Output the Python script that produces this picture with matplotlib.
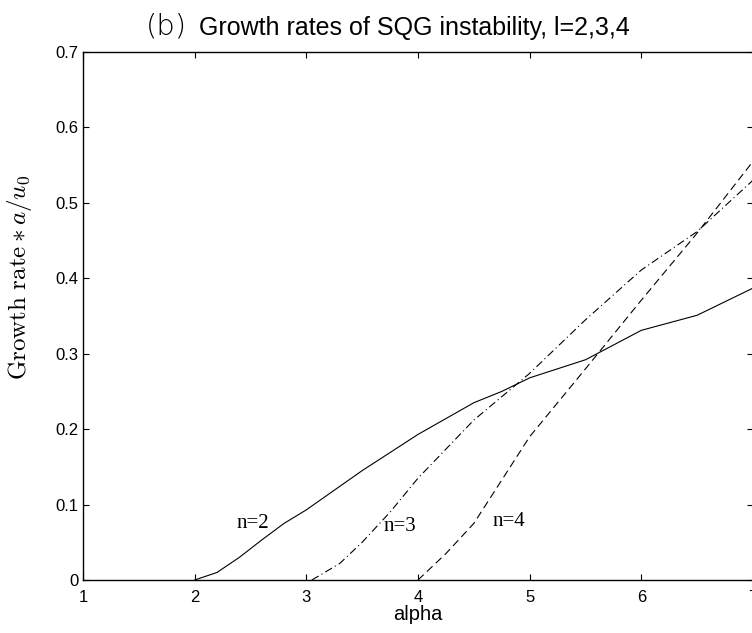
import matplotlib
matplotlib.use("Agg")
import matplotlib.pyplot as plt

# ---------------- DATA ----------------
alpha_n2 = [2.0, 2.2, 2.4, 2.6, 2.8, 3.0, 3.5, 4.0, 4.5, 4.75, 5.0, 5.5, 6.0, 6.5, 7.0]
growth_n2 = [0, 0.01, 0.03, 0.053, 0.075, 0.093, 0.145, 0.193, 0.235, 0.25, 0.268, 0.292, 0.331, 0.351, 0.387]

alpha_n3 = [3.05, 3.3, 3.5, 3.75, 4.0, 4.5, 5.0, 5.5, 6.0, 6.5, 7.0]
growth_n3 = [0, 0.022, 0.05, 0.09, 0.135, 0.212, 0.274, 0.345, 0.411, 0.462, 0.53]

alpha_n4 = [4.0, 4.25, 4.5, 5.0, 5.5, 6.0, 6.5, 7.0]
growth_n4 = [0, 0.035, 0.075, 0.19, 0.28, 0.371, 0.46, 0.555]

x_ticks = [1, 2, 3, 4, 5, 6, 7]
y_ticks = [0, 0.1, 0.2, 0.3, 0.4, 0.5, 0.6, 0.7]
y_tick_labels = ["0", "0.1", "0.2", "0.3", "0.4", "0.5", "0.6", "0.7"]
# --------------------------------------

plt.rcParams["mathtext.fontset"] = "cm"

W, H = 752, 633
fig = plt.figure(figsize=(W / 100, H / 100), dpi=100)
ax = fig.add_axes([83 / W, 53 / H, 670 / W, 528 / H])

ax.plot(alpha_n2, growth_n2, color="black", lw=0.8, ls="-")
ax.plot(alpha_n3, growth_n3, color="black", lw=0.8, dashes=[7, 3, 1, 3])
ax.plot(alpha_n4, growth_n4, color="black", lw=0.8, dashes=[7, 4])

ax.text(2.52, 0.075, "n=2", family="Liberation Serif", fontsize=15, ha="center", va="center")
ax.text(3.84, 0.071, "n=3", family="Liberation Serif", fontsize=15, ha="center", va="center")
ax.text(4.81, 0.077, "n=4", family="Liberation Serif", fontsize=15, ha="center", va="center")

ax.set_xlim(1, 7)
ax.set_ylim(0, 0.7)
ax.set_xticks(x_ticks)
ax.set_yticks(y_ticks)
ax.set_yticklabels(y_tick_labels)
ax.tick_params(direction="in", length=4.5, width=0.8, top=True, right=True,
               labelsize=12)
ax.tick_params(axis="x", pad=7)
ax.tick_params(axis="y", pad=3.5)
for lab in ax.get_xticklabels() + ax.get_yticklabels():
    lab.set_family("Liberation Sans")
for s in ax.spines.values():
    s.set_linewidth(1.0)

ax.set_xlabel("alpha", family="Liberation Sans", fontsize=14.5, labelpad=0)

fig.text(20 / W, 1 - 277 / H, r"$\mathrm{Growth\ rate} \ast a/u_0$",
         rotation=90, fontsize=18, ha="center", va="center")

fig.text(146 / W, 1 - 35 / H, "(b)", family="DejaVu Sans", weight="light",
         color="black", fontsize=21, ha="left", va="baseline")
fig.text(199 / W, 1 - 35 / H, "Growth rates of SQG instability, l=2,3,4",
         family="Liberation Sans", fontsize=18, ha="left", va="baseline")

fig.savefig("out.png", dpi=100)
